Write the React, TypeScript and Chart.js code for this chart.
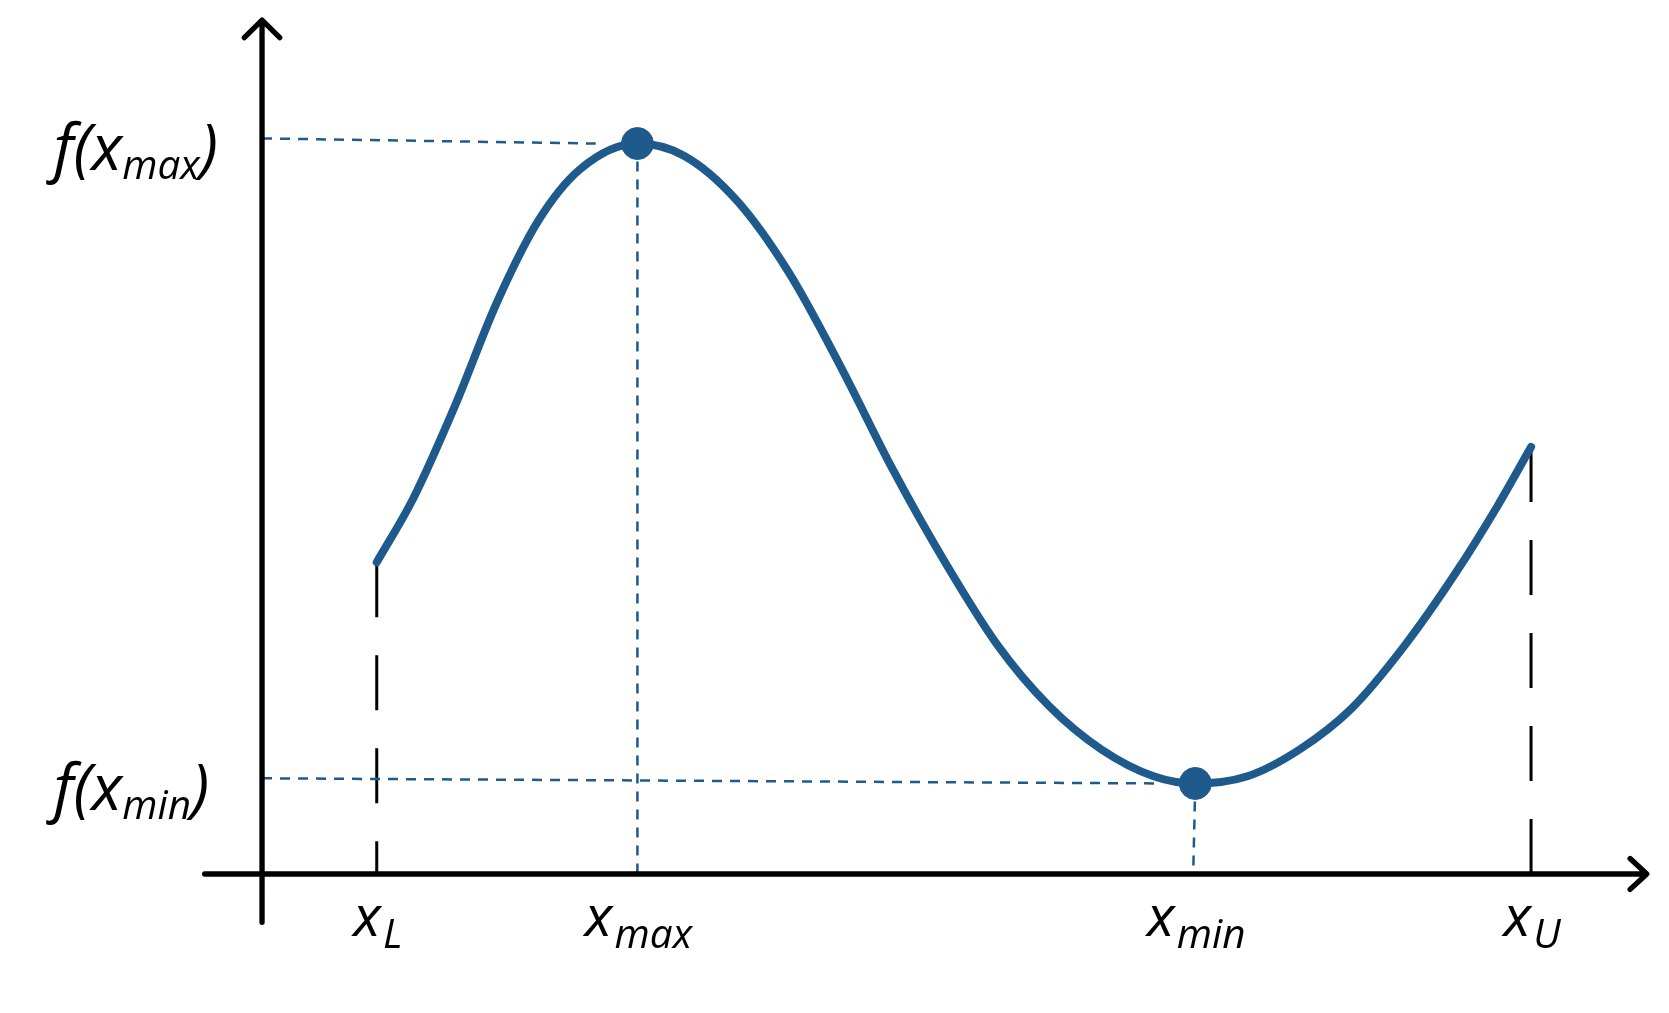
import React, { useEffect, useRef } from 'react';
import { Chart, registerables } from 'chart.js';

Chart.register(...registerables);

// curve samples (x, f(x))
const curveX = [345, 380, 420, 460, 500, 540, 595, 640, 690, 740, 790, 840, 890, 940, 990, 1040, 1090, 1130, 1180, 1230, 1280, 1330, 1380, 1420, 1452];
const curveY = [303, 365, 455, 555, 635, 685, 710, 698, 655, 585, 493, 393, 303, 223, 163, 121, 95, 88, 95, 121, 161, 221, 293, 358, 415];

const xLower = 345;
const xUpper = 1452;
const peak = { x: 595, y: 710 };
const trough = { x: 1130, y: 88 };
const yAxisX = 235;

const xLabels = [
  { x: xLower, main: 'x', sub: 'L' },
  { x: peak.x, main: 'x', sub: 'max' },
  { x: trough.x, main: 'x', sub: 'min' },
  { x: xUpper, main: 'x', sub: 'U' },
];
const yLabels = [
  { y: peak.y, sub: 'max' },
  { y: trough.y, sub: 'min' },
];

const BLUE = '#1f5a8c';

const pts = (xs: number[], ys: number[]) => xs.map((x, i) => ({ x, y: ys[i] }));

const overlay = {
  id: 'overlay',
  afterDatasetsDraw(chart: any) {
    const { ctx, scales } = chart;
    const px = (v: number) => scales.x.getPixelForValue(v);
    const py = (v: number) => scales.y.getPixelForValue(v);
    const k = chart.width / 1568;
    ctx.save();
    ctx.strokeStyle = '#000';
    ctx.lineWidth = 5 * k;
    ctx.lineCap = 'round';
    ctx.lineJoin = 'round';
    // y axis
    ctx.beginPath();
    ctx.moveTo(px(yAxisX), py(-47));
    ctx.lineTo(px(yAxisX), py(828));
    ctx.moveTo(px(yAxisX - 17), py(813));
    ctx.lineTo(px(yAxisX), py(830));
    ctx.lineTo(px(yAxisX + 17), py(813));
    // x axis
    ctx.moveTo(px(180), py(0));
    ctx.lineTo(px(1562), py(0));
    ctx.moveTo(px(1547), py(15));
    ctx.lineTo(px(1563), py(0));
    ctx.lineTo(px(1547), py(-15));
    ctx.stroke();

    const italic = (s: number) => `italic ${s * k}px "Open Sans", sans-serif`;
    ctx.fillStyle = '#000';
    ctx.textBaseline = 'alphabetic';
    xLabels.forEach((l) => {
      ctx.font = italic(54);
      const w1 = ctx.measureText(l.main).width;
      ctx.font = italic(38);
      const w2 = ctx.measureText(l.sub).width;
      let x0 = px(l.x) - (w1 + w2) / 2;
      ctx.font = italic(54);
      ctx.fillText(l.main, x0, py(-60));
      ctx.font = italic(38);
      ctx.fillText(l.sub, x0 + w1 + 2 * k, py(-72));
    });
    yLabels.forEach((l) => {
      const base = py(l.y) + 25 * k;
      let x = px(35);
      ctx.font = italic(60);
      ctx.fillText('f(x', x, base);
      x += ctx.measureText('f(x').width;
      ctx.font = italic(38);
      ctx.fillText(l.sub, x, base + 8 * k);
      x += ctx.measureText(l.sub).width;
      ctx.font = italic(60);
      ctx.fillText(')', x, base);
    });
    ctx.restore();
  },
};

export default function App() {
  const canvasRef = useRef<HTMLCanvasElement | null>(null);

  useEffect(() => {
    if (!canvasRef.current) return;
    const guide = (data: any[], color: string, width: number, dash: number[]) => ({
      type: 'line' as const,
      data,
      borderColor: color,
      borderWidth: width,
      borderDash: dash,
      pointRadius: 0,
      tension: 0,
      order: 2,
    });
    const chart = new Chart(canvasRef.current, {
      type: 'line',
      data: {
        datasets: [
          {
            data: pts(curveX, curveY),
            borderColor: BLUE,
            borderWidth: 8,
            borderCapStyle: 'round',
            pointRadius: 0,
            cubicInterpolationMode: 'monotone',
            order: 1,
          },
          {
            data: [peak, trough],
            showLine: false,
            pointRadius: 16,
            pointBackgroundColor: BLUE,
            pointBorderColor: BLUE,
            order: 0,
          },
          guide([{ x: yAxisX, y: peak.y + 5 }, { x: peak.x - 40, y: peak.y }], BLUE, 2.5, [10, 8]),
          guide([{ x: peak.x, y: peak.y }, { x: peak.x, y: 0 }], BLUE, 2.5, [10, 8]),
          guide([{ x: yAxisX, y: trough.y + 5 }, { x: trough.x - 35, y: trough.y }], BLUE, 2.5, [10, 8]),
          guide([{ x: trough.x, y: trough.y }, { x: trough.x - 2, y: 0 }], BLUE, 2.5, [10, 8]),
          guide([{ x: xLower, y: curveY[0] }, { x: xLower, y: 0 }], '#000', 3, [55, 38]),
          guide([{ x: xUpper, y: curveY[curveY.length - 1] }, { x: xUpper, y: 0 }], '#000', 3, [55, 38]),
        ],
      },
      options: {
        animation: false,
        responsive: false,
        maintainAspectRatio: false,
        layout: { padding: 0 },
        plugins: { legend: { display: false }, tooltip: { enabled: false } },
        scales: {
          x: { type: 'linear', min: 0, max: 1568, display: false },
          y: { type: 'linear', min: -118.6, max: 833, display: false },
        },
      },
      plugins: [overlay],
    });
    return () => chart.destroy();
  }, []);

  return (
    <div style={{ position: 'fixed', left: 0, top: 0, width: 1669, height: 1013, background: '#fff' }}>
      <canvas ref={canvasRef} width={1669} height={1013} style={{ width: 1669, height: 1013 }} />
    </div>
  );
}
